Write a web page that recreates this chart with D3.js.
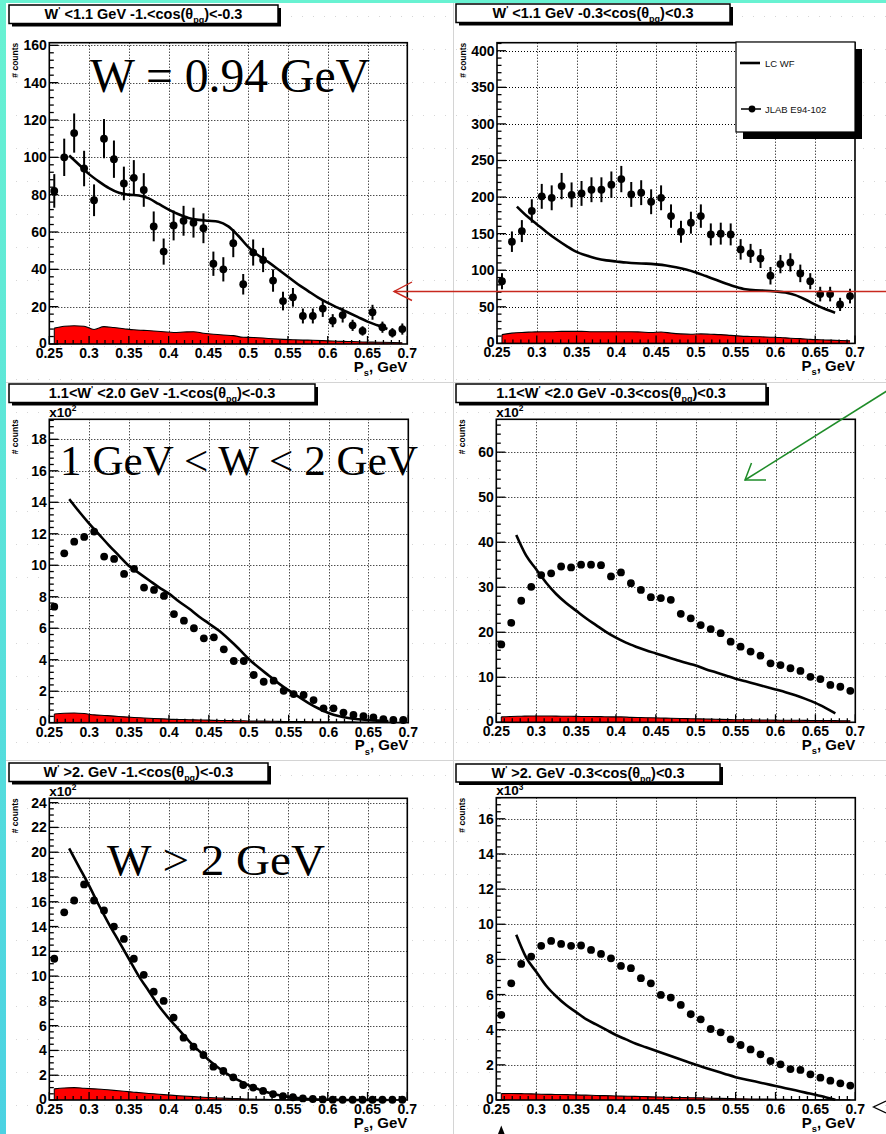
<!DOCTYPE html>
<html>
<head>
<meta charset="utf-8">
<script src="https://cdn.jsdelivr.net/npm/d3@7"></script>
<style>
  body { margin: 0; background: #fff; }
  svg { display: block; }
</style>
</head>
<body>
<svg id="canvas" width="886" height="1134"></svg>
<script>
// ---------- shared axes ----------
const binCenters = [0.25625, 0.26875, 0.28125, 0.29375, 0.30625, 0.31875, 0.33125, 0.34375, 0.35625,
  0.36875, 0.38125, 0.39375, 0.40625, 0.41875, 0.43125, 0.44375, 0.45625, 0.46875, 0.48125,
  0.49375, 0.50625, 0.51875, 0.53125, 0.54375, 0.55625, 0.56875, 0.58125, 0.59375, 0.60625,
  0.61875, 0.63125, 0.64375, 0.65625, 0.66875, 0.68125, 0.69375];
const modelX = [0.275, 0.2875, 0.3, 0.3125, 0.325, 0.3375, 0.35, 0.3625, 0.375, 0.3875, 0.4, 0.4125,
  0.425, 0.4375, 0.45, 0.4625, 0.475, 0.4875, 0.5, 0.5125, 0.525, 0.5375, 0.55, 0.5625, 0.575,
  0.5875, 0.6, 0.6125, 0.625, 0.6375, 0.65, 0.6625, 0.675];
const xTicks = [0.25, 0.3, 0.35, 0.4, 0.45, 0.5, 0.55, 0.6, 0.65, 0.7];
const xTickLabels = ["0.25", "0.3", "0.35", "0.4", "0.45", "0.5", "0.55", "0.6", "0.65", "0.7"];
const xAxisTitle = "P_{s}, GeV";
const yAxisTitle = "# counts";
const legendLabels = ["LC WF", "JLAB E94-102"];

// ---------- W' < 1.1 GeV, backward angles ----------
const tlTitle = "W^{'} <1.1 GeV -1.<cos(θ_{pq})<-0.3";
const tlYTicks = [0, 20, 40, 60, 80, 100, 120, 140, 160];
const tlCounts = [82, 100, 113, 94, 77, 110, 99, 86, 89, 82.5, 63, 49.5, 63.5, 66, 65, 62, 43, 40, 54,
  32, 49, 45, 34, 23, 25, 15, 15, 19, 12.5, 15.5, 10, 7, 17, 9, 6, 8];
const tlErrors = [9, 10, 10.5, 9.5, 8.5, 10.5, 10, 9, 9.5, 9, 8, 7, 8, 8, 8, 8, 6.5, 6.5, 7.5, 5.5, 7,
  6.5, 6, 5, 5, 4, 4, 4.5, 3.5, 4, 3, 2.5, 4, 3, 2.5, 3];
const tlModel = [101, 96, 91, 87, 83.5, 81, 80, 79.5, 78, 75, 72, 69.5, 67.5, 66.5, 66, 65.5, 63, 58,
  52, 47.5, 44, 40, 36, 32, 28.5, 25, 22, 19.5, 17, 14.5, 12, 10, 8];
const tlBackground = [8.5, 9.5, 9.8, 9.5, 7.8, 9.3, 8.8, 8.2, 7.6, 7.3, 7.0, 6.6, 6.2, 6.4, 6.6, 5.8,
  5.2, 4.8, 4.5, 3.6, 3.5, 3.2, 2.8, 2.5, 2.3, 2.1, 2.0, 1.8, 1.6, 1.4, 1.3, 1.1, 1.0, 0.9, 0.8, 0.7];

// ---------- W' < 1.1 GeV, transverse angles ----------
const trTitle = "W^{'} <1.1 GeV -0.3<cos(θ_{pq})<0.3";
const trYTicks = [0, 50, 100, 150, 200, 250, 300, 350, 400];
const trCounts = [85, 139, 153.5, 181, 201, 199, 215, 203, 205, 210, 210, 217, 224.6, 203.6, 206,
  193.6, 199, 174, 152.6, 165, 174, 149, 150, 149, 128.5, 123, 116, 92.5, 108.4, 110.7, 95.7, 85,
  67.4, 67.4, 53.3, 64.7];
const trErrors = [11, 14, 15, 16, 17, 17, 18, 17, 17, 17, 17, 18, 18, 17, 17, 17, 17, 16, 15, 15, 16,
  15, 15, 15, 14, 13, 13, 12, 12.5, 12.5, 12, 11, 10, 10, 9, 10];
const trModel = [187, 174, 163, 152, 142, 133, 125, 120, 116, 113.5, 112, 110.5, 109.5, 109, 108,
  106.5, 104, 101, 97, 92, 87, 82, 77.5, 74, 72.5, 72, 71, 69.5, 66, 60, 53, 47, 42];
const trBackground = [12, 14, 15, 15.5, 16, 16, 16.5, 16.5, 16.5, 16, 16, 16, 16, 16, 15.5, 15, 15.5,
  14, 13, 12.5, 13, 12.5, 12, 11, 10, 9.5, 9, 8.5, 8, 7, 6.5, 5.5, 5, 4.5, 4, 3.5];

// ---------- 1.1 < W' < 2.0 GeV, backward angles (x10^2) ----------
const mlTitle = "1.1<W^{'} <2.0 GeV -1.<cos(θ_{pq})<-0.3";
const mlYTicks = [0, 2, 4, 6, 8, 10, 12, 14, 16, 18];
const mlCounts = [7.37, 10.76, 11.5, 11.8, 12.14, 10.55, 10.4, 9.45, 9.77, 8.58, 8.43, 8.05, 6.9,
  6.48, 6.0, 5.36, 5.42, 4.66, 3.92, 3.92, 3.03, 2.6, 2.67, 2.03, 1.82, 1.76, 1.44, 0.91, 0.91, 0.64,
  0.49, 0.42, 0.34, 0.23, 0.17, 0.17];
const mlModel = [14.2, 13.4, 12.65, 11.95, 11.25, 10.6, 9.95, 9.5, 9.05, 8.6, 8.2, 7.7, 7.25, 6.75,
  6.3, 5.85, 5.3, 4.7, 4.05, 3.5, 3.0, 2.5, 2.05, 1.65, 1.25, 0.9, 0.62, 0.42, 0.3, 0.22, 0.17, 0.13, 0.1];
const mlBackground = [0.55, 0.6, 0.62, 0.58, 0.5, 0.46, 0.42, 0.37, 0.33, 0.3, 0.27, 0.24, 0.21, 0.2,
  0.18, 0.17, 0.15, 0.14, 0.13, 0.12, 0.1, 0.1, 0.09, 0.08, 0.07, 0.07, 0.06, 0.06, 0.05, 0.05, 0.05,
  0.04, 0.04, 0.04, 0.03, 0.03];

// ---------- 1.1 < W' < 2.0 GeV, transverse angles (x10^2) ----------
const mrTitle = "1.1<W^{'} <2.0 GeV -0.3<cos(θ_{pq})<0.3";
const mrYTicks = [0, 10, 20, 30, 40, 50, 60];
const mrCounts = [17.3, 22.1, 27.0, 30.1, 32.7, 33.1, 34.6, 34.4, 35.0, 35.0, 34.9, 32.4, 33.3, 30.9,
  29.4, 27.8, 27.6, 27.2, 24.1, 23.1, 21.6, 20.7, 19.8, 17.9, 16.8, 15.7, 14.8, 13.1, 12.7, 12.0, 11.4,
  10.1, 9.6, 8.3, 7.9, 7.0];
const mrModel = [41.6, 37, 34, 31, 28.5, 26.5, 24.8, 23.1, 21.6, 20.1, 18.8, 17.7, 16.8, 16.0, 15.3,
  14.6, 13.9, 13.2, 12.6, 11.8, 11.1, 10.4, 9.7, 9.1, 8.5, 7.9, 7.3, 6.7, 6.0, 5.2, 4.3, 3.2, 2.0];
const mrBackground = [1.2, 1.3, 1.35, 1.4, 1.4, 1.4, 1.35, 1.35, 1.3, 1.3, 1.25, 1.2, 1.2, 1.1, 1.05,
  1.0, 0.95, 0.9, 0.85, 0.8, 0.75, 0.7, 0.65, 0.6, 0.55, 0.55, 0.5, 0.5, 0.45, 0.45, 0.45, 0.4, 0.4,
  0.4, 0.35, 0.35];

// ---------- W' > 2 GeV, backward angles (x10^2) ----------
const blTitle = "W^{'} >2. GeV -1.<cos(θ_{pq})<-0.3";
const blYTicks = [0, 2, 4, 6, 8, 10, 12, 14, 16, 18, 20, 22, 24];
const blCounts = [11.4, 15.15, 16.1, 17.4, 16.1, 15.3, 14.0, 13.0, 11.4, 10.1, 8.74, 8.0, 6.65, 5.03,
  4.3, 3.63, 2.69, 2.34, 1.83, 1.21, 1.0, 0.73, 0.48, 0.32, 0.22, 0.13, 0.08, 0.05, 0.03, 0.02, 0.02,
  0.02, 0.02, 0.02, 0.02, 0.02];
const blModel = [20.3, 18.8, 17.3, 15.7, 14.2, 12.8, 11.4, 10.0, 8.8, 7.6, 6.6, 5.7, 4.8, 4.0, 3.25,
  2.6, 2.05, 1.6, 1.2, 0.88, 0.6, 0.4, 0.25, 0.15, 0.08, 0.04, 0.02, 0.01, 0, 0, 0, 0, 0];
const blBackground = [0.9, 0.97, 1.0, 0.95, 0.9, 0.85, 0.78, 0.7, 0.63, 0.56, 0.5, 0.43, 0.37, 0.32,
  0.27, 0.22, 0.18, 0.15, 0.12, 0.09, 0.07, 0.05, 0.04, 0.03, 0.02, 0.02, 0.01, 0.01, 0.01, 0.01, 0.01,
  0, 0, 0, 0, 0];

// ---------- W' > 2 GeV, transverse angles (x10^3) ----------
const brTitle = "W^{'} >2. GeV -0.3<cos(θ_{pq})<0.3";
const brYTicks = [0, 2, 4, 6, 8, 10, 12, 14, 16];
const brCounts = [4.84, 6.64, 7.74, 8.16, 8.77, 9.05, 8.88, 8.77, 8.79, 8.54, 8.31, 8.06, 7.63, 7.5,
  6.93, 6.64, 5.98, 5.83, 5.41, 4.88, 4.59, 4.04, 3.85, 3.45, 3.13, 2.88, 2.6, 2.22, 2.03, 1.76, 1.71,
  1.46, 1.27, 1.1, 0.95, 0.82];
const brModel = [9.4, 8.1, 7.3, 6.5, 5.9, 5.4, 5.0, 4.6, 4.3, 4.0, 3.7, 3.45, 3.2, 3.0, 2.8, 2.6, 2.4,
  2.2, 2.0, 1.82, 1.65, 1.47, 1.3, 1.17, 1.05, 0.92, 0.8, 0.67, 0.55, 0.42, 0.3, 0.16, 0.02];
const brBackground = [0.36, 0.37, 0.36, 0.35, 0.33, 0.32, 0.31, 0.3, 0.28, 0.27, 0.25, 0.24, 0.22,
  0.21, 0.2, 0.18, 0.17, 0.15, 0.14, 0.13, 0.12, 0.1, 0.09, 0.08, 0.07, 0.06, 0.05, 0.05, 0.04, 0.03,
  0.03, 0.02, 0.02, 0.02, 0.01, 0.01];

// ---------- kinematic-region labels ----------
const regionLabels = ["W = 0.94 GeV", "1 GeV < W < 2 GeV", "W > 2 GeV"];

// ---------- page layout ----------
const panels = [
  { title: tlTitle, box: [9, 5, 269, 18.5], frame: [49.3, 407.3, 42.7, 344], yMax: 161.4, yTicks: tlYTicks,
    minor: 4, counts: tlCounts, errors: tlErrors, model: tlModel, background: tlBackground, mult: null },
  { title: trTitle, box: [456, 4, 274, 18.5], frame: [497, 855, 42.7, 343.4], yMax: 411, yTicks: trYTicks,
    minor: 10, counts: trCounts, errors: trErrors, model: trModel, background: trBackground, mult: null, legend: true },
  { title: mlTitle, box: [9, 384, 306, 18.5], frame: [49.3, 408.3, 419.3, 722.7], yMax: 19.27, yTicks: mlYTicks,
    minor: 0.4, counts: mlCounts, errors: null, model: mlModel, background: mlBackground, mult: "x10^{2}" },
  { title: mrTitle, box: [456, 384, 310, 18.5], frame: [496.3, 855.3, 419.3, 722.3], yMax: 67.3, yTicks: mrYTicks,
    minor: 2, counts: mrCounts, errors: null, model: mrModel, background: mrBackground, mult: "x10^{2}" },
  { title: blTitle, box: [9, 763, 259, 18.5], frame: [49.3, 407.3, 798.3, 1100], yMax: 24.35, yTicks: blYTicks,
    minor: 0.5, counts: blCounts, errors: null, model: blModel, background: blBackground, mult: "x10^{2}" },
  { title: brTitle, box: [456, 764, 264, 18], frame: [496.3, 855.3, 797.7, 1100], yMax: 17.2, yTicks: brYTicks,
    minor: 0.4, counts: brCounts, errors: null, model: brModel, background: brBackground, mult: "x10^{3}" }
];

const SANS = "'Liberation Sans', Arial, Helvetica, sans-serif";
const SERIF = "'Liberation Serif', 'Times New Roman', serif";

const svg = d3.select("#canvas");
const crisp = v => Math.round(v) + 0.5;

// TLatex-like text: ^{...} superscript, _{...} subscript
function richText(sel, str, size) {
  const parts = str.split(/(\^\{[^}]*\}|_\{[^}]*\})/).filter(s => s.length);
  let shift = 0;
  parts.forEach(p => {
    let target = 0, txt = p, fs = size;
    if (p.startsWith("^{")) { target = -0.42 * size; txt = p.slice(2, -1); fs = size * 0.62; }
    else if (p.startsWith("_{")) { target = 0.3 * size; txt = p.slice(2, -1); fs = size * 0.62; }
    sel.append("tspan").attr("dy", target - shift).attr("font-size", fs).text(txt);
    shift = target;
  });
}

// ---------- slide backdrop ----------
const defs = svg.append("defs");
const grad = defs.append("linearGradient").attr("id", "edge").attr("x1", 0).attr("y1", 0).attr("x2", 0).attr("y2", 1);
grad.append("stop").attr("offset", 0).attr("stop-color", "#68f2d2");
grad.append("stop").attr("offset", 1).attr("stop-color", "#4bd2e2");

const pat = defs.append("pattern").attr("id", "dots").attr("width", 11).attr("height", 33)
  .attr("patternUnits", "userSpaceOnUse");
pat.append("rect").attr("x", 5).attr("y", 16).attr("width", 1).attr("height", 1).attr("fill", "#d6d6d6");
svg.append("rect").attr("width", 886).attr("height", 1134).attr("fill", "url(#dots)");

// light separators between the pasted pads
const sepG = svg.append("g").attr("stroke", "#d4d4d4").attr("stroke-width", 1);
sepG.append("line").attr("x1", 453.5).attr("x2", 453.5).attr("y1", 0).attr("y2", 1134);
sepG.append("line").attr("x1", 0).attr("x2", 886).attr("y1", 382.5).attr("y2", 382.5);
sepG.append("line").attr("x1", 0).attr("x2", 886).attr("y1", 760.5).attr("y2", 760.5);

// ---------- panels ----------
panels.forEach(p => {
  const [fx0, fx1, fy0, fy1] = p.frame;
  const x = d3.scaleLinear().domain([0.25, 0.7]).range([fx0, fx1]);
  const y = d3.scaleLinear().domain([0, p.yMax]).range([fy1, fy0]);
  const g = svg.append("g");

  // title box with shadow
  const [bx, by, bw, bh] = p.box;
  g.append("rect").attr("x", bx + 3).attr("y", by + 3).attr("width", bw).attr("height", bh).attr("fill", "#000");
  g.append("rect").attr("x", bx).attr("y", by).attr("width", bw).attr("height", bh)
    .attr("fill", "#fff").attr("stroke", "#000").attr("stroke-width", 1.5);
  const tt = g.append("text").attr("x", bx + bw / 2).attr("y", by + bh / 2 + 4.8)
    .attr("text-anchor", "middle").attr("font-family", SANS).attr("font-weight", "bold").attr("font-size", 14.5);
  richText(tt, p.title, 14.5);

  // plot area background
  g.append("rect").attr("x", fx0).attr("y", fy0).attr("width", fx1 - fx0).attr("height", fy1 - fy0).attr("fill", "#fff");

  // dotted grid
  const grid = g.append("g").attr("stroke", "#000").attr("stroke-width", 1).attr("stroke-dasharray", "1,2");
  xTicks.slice(1, -1).forEach(t => grid.append("line").attr("x1", crisp(x(t))).attr("x2", crisp(x(t)))
    .attr("y1", fy0).attr("y2", fy1));
  p.yTicks.filter(t => t > 0 && y(t) > fy0 + 1).forEach(t =>
    grid.append("line").attr("x1", fx0).attr("x2", fx1).attr("y1", crisp(y(t))).attr("y2", crisp(y(t))));

  // background estimate (red)
  const bgArea = d3.area().x((d, i) => x(binCenters[i])).y0(y(0)).y1(d => y(d)).curve(d3.curveMonotoneX);
  const bgLine = d3.line().x((d, i) => x(binCenters[i])).y(d => y(d)).curve(d3.curveMonotoneX);
  g.append("path").datum(p.background).attr("d", bgArea).attr("fill", "#ff0000");
  g.append("path").datum(p.background).attr("d", bgLine).attr("fill", "none").attr("stroke", "#000").attr("stroke-width", 1.1);
  g.append("line").attr("x1", x(binCenters[0])).attr("x2", x(binCenters[0]))
    .attr("y1", y(0)).attr("y2", y(p.background[0])).attr("stroke", "#000").attr("stroke-width", 1);

  // model curve
  const modelLine = d3.line().x((d, i) => x(modelX[i])).y(d => y(d)).curve(d3.curveMonotoneX);
  g.append("path").datum(p.model).attr("d", modelLine).attr("fill", "none")
    .attr("stroke", "#000").attr("stroke-width", 2.6).attr("stroke-linejoin", "round");

  // data points
  const pts = g.append("g");
  p.counts.forEach((v, i) => {
    if (p.errors) {
      pts.append("line").attr("x1", x(binCenters[i])).attr("x2", x(binCenters[i]))
        .attr("y1", y(v - p.errors[i])).attr("y2", y(Math.min(v + p.errors[i], p.yMax)))
        .attr("stroke", "#000").attr("stroke-width", 2);
    }
    pts.append("circle").attr("cx", x(binCenters[i])).attr("cy", y(v)).attr("r", 3.9).attr("fill", "#000");
  });

  // frame
  g.append("rect").attr("x", fx0).attr("y", fy0).attr("width", fx1 - fx0).attr("height", fy1 - fy0)
    .attr("fill", "none").attr("stroke", "#000").attr("stroke-width", 1.6);

  // y ticks (inside, ROOT style)
  const ticks = g.append("g").attr("stroke", "#000").attr("stroke-width", 1.3);
  d3.range(0, p.yMax + 1e-9, p.minor).forEach(t => {
    const major = p.yTicks.some(m => Math.abs(m - t) < 1e-6);
    ticks.append("line").attr("x1", fx0).attr("x2", fx0 + (major ? 9 : 4.5)).attr("y1", y(t)).attr("y2", y(t));
  });
  // x ticks (inside, from the bottom)
  d3.range(0.25, 0.7 + 1e-9, 0.01).forEach(t => {
    const major = xTicks.some(m => Math.abs(m - t) < 1e-6);
    ticks.append("line").attr("x1", x(t)).attr("x2", x(t)).attr("y1", fy1).attr("y2", fy1 - (major ? 8 : 4));
  });

  // tick labels
  const lab = g.append("g").attr("font-family", SANS).attr("font-weight", "bold").attr("font-size", 14).attr("fill", "#000");
  p.yTicks.forEach(t => lab.append("text").attr("x", fx0 - 2.5).attr("y", y(t) + (t === 0 ? 3.5 : 5))
    .attr("text-anchor", "end").text(t));
  xTicks.forEach((t, i) => lab.append("text").attr("x", x(t)).attr("y", fy1 + 14)
    .attr("text-anchor", "middle").text(xTickLabels[i]));

  // axis titles
  const xt = g.append("text").attr("x", fx1).attr("y", fy1 + 27.5).attr("text-anchor", "end")
    .attr("font-family", SANS).attr("font-weight", "bold").attr("font-size", 15);
  richText(xt, xAxisTitle, 15);
  g.append("text").attr("transform", `translate(${fx0 - 31},${fy0}) rotate(-90)`)
    .attr("text-anchor", "end").attr("font-family", SANS).attr("font-weight", "bold").attr("font-size", 8.5)
    .text(yAxisTitle);

  if (p.mult) {
    const mt = g.append("text").attr("x", fx0).attr("y", fy0 - 2.5)
      .attr("font-family", SANS).attr("font-weight", "bold").attr("font-size", 13.5);
    richText(mt, p.mult, 13.5);
  }

  // legend
  if (p.legend) {
    const lx0 = 736, ly0 = 42, lw = 119, lh = 90;
    g.append("rect").attr("x", lx0 + 7).attr("y", ly0 + 7).attr("width", lw).attr("height", lh).attr("fill", "#000");
    g.append("rect").attr("x", lx0).attr("y", ly0).attr("width", lw).attr("height", lh)
      .attr("fill", "#fff").attr("stroke", "#000").attr("stroke-width", 1.2);
    const rows = [ly0 + 21, ly0 + 67];
    g.append("line").attr("x1", lx0 + 4).attr("x2", lx0 + 24).attr("y1", rows[0]).attr("y2", rows[0])
      .attr("stroke", "#000").attr("stroke-width", 2.6);
    g.append("line").attr("x1", lx0 + 5).attr("x2", lx0 + 25).attr("y1", rows[1]).attr("y2", rows[1])
      .attr("stroke", "#000").attr("stroke-width", 1.5);
    g.append("circle").attr("cx", lx0 + 16).attr("cy", rows[1]).attr("r", 3.4).attr("fill", "#000");
    legendLabels.forEach((t, i) => g.append("text").attr("x", lx0 + 29).attr("y", rows[i] + 3.5)
      .attr("font-family", SANS).attr("font-size", 9.5).attr("fill", "#111").text(t));
  }
});

// ---------- region labels ----------
const big = svg.append("g").attr("font-family", SERIF).attr("fill", "#000");
big.append("text").attr("x", 90).attr("y", 92).attr("font-size", 47.5)
  .attr("textLength", 280).attr("lengthAdjust", "spacingAndGlyphs").text(regionLabels[0]);
big.append("text").attr("x", 60).attr("y", 475).attr("font-size", 43)
  .attr("textLength", 358).attr("lengthAdjust", "spacing").text(regionLabels[1]);
big.append("text").attr("x", 107).attr("y", 875).attr("font-size", 45)
  .attr("textLength", 218).attr("lengthAdjust", "spacingAndGlyphs").text(regionLabels[2]);

// ---------- hand-drawn pointers ----------
const red = "#c8281e", green = "#1e8c28";
svg.append("line").attr("x1", 394).attr("x2", 886).attr("y1", 291.5).attr("y2", 291.5)
  .attr("stroke", red).attr("stroke-width", 1.4);
svg.append("path").attr("d", "M412,282 L394,291.5 L412,300.5").attr("fill", "none")
  .attr("stroke", red).attr("stroke-width", 1.4);

svg.append("line").attr("x1", 745).attr("y1", 480).attr("x2", 890).attr("y2", 389)
  .attr("stroke", green).attr("stroke-width", 1.5);
svg.append("path").attr("d", "M751.5,463 L745,480 L766,480").attr("fill", "none")
  .attr("stroke", green).attr("stroke-width", 1.5);

svg.append("path").attr("d", "M886,1101 L873.5,1107 L886,1113").attr("fill", "none")
  .attr("stroke", "#000").attr("stroke-width", 1.3);
svg.append("path").attr("d", "M498,1134 L501.3,1125.5 L504.6,1134 Z").attr("fill", "#000");

// ---------- slide edge ----------
svg.append("rect").attr("x", 0).attr("y", 0).attr("width", 6).attr("height", 1134).attr("fill", "url(#edge)");
svg.append("rect").attr("x", 0).attr("y", 0).attr("width", 886).attr("height", 3).attr("fill", "#68f2d2");
</script>
</body>
</html>
